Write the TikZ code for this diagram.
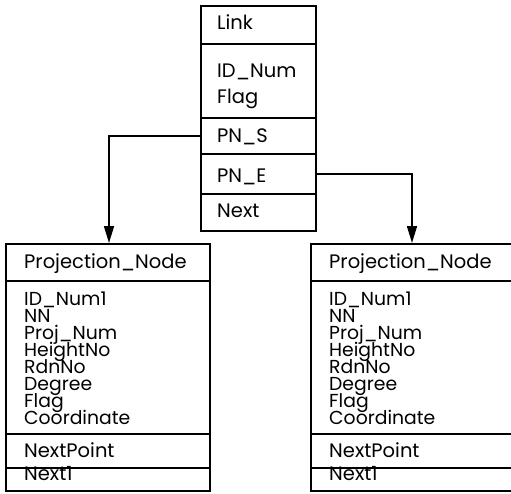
\documentclass[tikz,border=0pt]{standalone}
\usepackage{fontspec}
\setmainfont{Poppins}
\usetikzlibrary{arrows.meta}
\begin{document}
\begin{tikzpicture}[x=1pt,y=-1pt,
  rowbox/.style={draw, line width=1.6pt, rectangle, anchor=north west, inner sep=0pt, minimum width=#1},
  txt/.style={anchor=base west, inner sep=0pt, font=\fontsize{19.5}{19.5}\selectfont},
  fieldtxt/.style={txt, font=\fontsize{18.8}{18.8}\selectfont},
  link/.style={line width=1.6pt, -{Triangle[length=17pt,width=10pt]}}]
\useasboundingbox (0,0) rectangle (511,493);
\clip (0,0) rectangle (511,493);
% top box
\node[rowbox=115, minimum height=38] (linkrow) at (200,5) {};
\node[rowbox=115, minimum height=74] (idrow) at (200,43) {};
\node[rowbox=115, minimum height=36] (pns) at (200,117) {};
\node[rowbox=115, minimum height=40] (pne) at (200,153) {};
\node[rowbox=115, minimum height=37] (nextrow) at (200,193) {};
\node[txt] (tlink) at (217,29) {Link};
\node[txt] (tid) at (217,77) {ID\_Num};
\node[txt] (tflag) at (217,103) {Flag};
\node[txt] (tpns) at (217,142) {PN\_S};
\node[txt] (tpne) at (217,182) {PN\_E};
\node[txt] (tnext) at (217,217) {Next};
% projection boxes
\foreach \side/\x/\w in {l/5/204, r/310/230} {
  \node[rowbox=\w, minimum height=37] (\side title) at (\x,243) {};
  \node[rowbox=\w, minimum height=153] (\side fields) at (\x,280) {};
  \node[rowbox=\w, minimum height=34] (\side np) at (\x,433) {};
  \node[rowbox=\w, minimum height=23] (\side n1) at (\x,467) {};
  \node[txt] (\side ttitle) at (\x+19,268) {Projection\_Node};
  \foreach \t [count=\i] in {ID\_Num1, NN, Proj\_Num, HeightNo, RdnNo, Degree, Flag, Coordinate}
    \node[fieldtxt] (\side f\i) at (\x+19,305+17.14*\i-17.14) {\t};
  \node[txt] (\side tnp) at (\x+19,457) {NextPoint};
  \node[txt] (\side tn1) at (\x+19,480) {Next1};
}
% connectors
\coordinate (lend) at (109,243);
\coordinate (rend) at (412,243);
\draw[link] (pns.west) -| (lend);
\draw[link] (pne.east) -| (rend);
\end{tikzpicture}
\end{document}
